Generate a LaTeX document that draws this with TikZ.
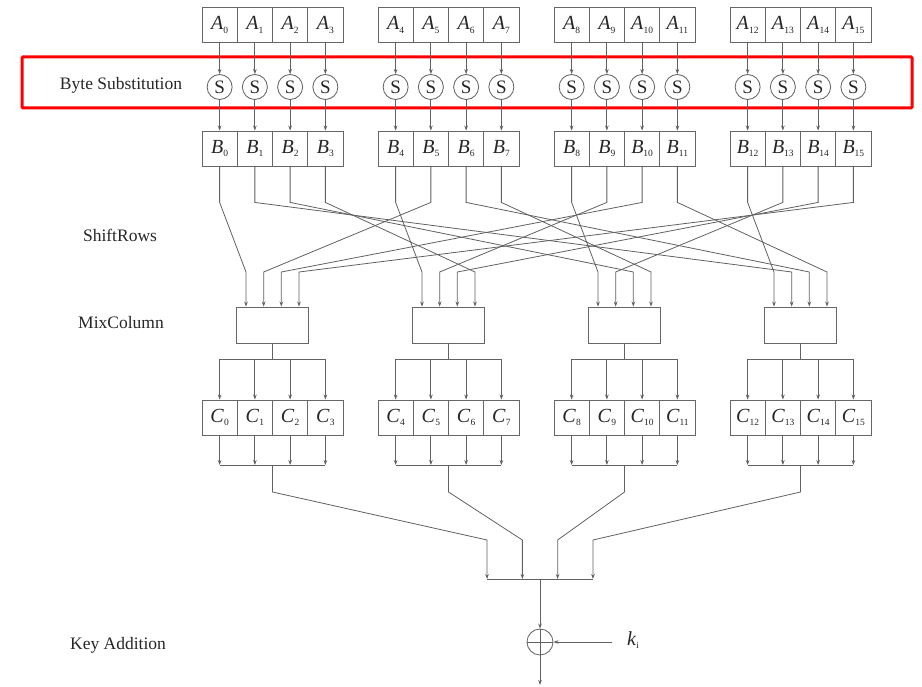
\documentclass[tikz,border=0pt]{standalone}
\usepackage{fontspec}
\setmainfont{Liberation Serif}
\usetikzlibrary{arrows.meta}
\newcommand{\cl}[2]{\textit{#1}\raisebox{-0.35ex}{\fontsize{9.5}{9.5}\selectfont #2}}
\begin{document}
\begin{tikzpicture}[x=1pt,y=-1pt,
 wire/.style={draw=black!62, line width=0.8pt},
 arr/.style={wire,-{Stealth[length=5pt,width=3.6pt]}},
 cell/.style={draw=black!60, line width=0.85pt, minimum width=35.25pt, minimum height=35pt, inner sep=0pt, font=\fontsize{20}{20}\selectfont, text=black!85},
 sbox/.style={draw=black!60, line width=0.85pt, circle, minimum size=25pt, inner sep=0pt, font=\fontsize{19}{19}\selectfont, text=black!85},
 mixbox/.style={draw=black!60, minimum width=72pt, minimum height=36pt, line width=0.85pt},
 steplabel/.style={font=\fontsize{17.5}{17.5}\selectfont, text=black!85}]
\useasboundingbox (0,0) rectangle (922,687);
% red highlight
\draw[red, line width=3pt, rounded corners=1pt] (22,57) rectangle (912,108);
% labels
\node[steplabel] (lbs) at (121,85) {Byte Substitution};
\node[steplabel] (lsr) at (120,235) {ShiftRows};
\node[steplabel] (lmc) at (121,323) {MixColumn};
\node[steplabel] (lka) at (118,645) {Key Addition};
% cells
\foreach \g in {0,...,3}{
 \foreach \j in {0,...,3}{
  \pgfmathtruncatemacro{\i}{4*\g+\j}
  \pgfmathsetmacro{\cx}{202+176*\g+35.25*(\j+0.5)}
  \node[cell] (A\i) at (\cx,25) {\cl{A}{\i}};
  \node[sbox] (S\i) at (\cx,87) {S};
  \node[cell] (B\i) at (\cx,148.5) {\cl{B}{\i}};
  \node[cell] (C\i) at (\cx,417.5) {\cl{C}{\i}};
  \draw[arr] (A\i) -- (S\i);
  \draw[arr] (S\i) -- (B\i);
 }
 \pgfmathsetmacro{\mx}{202+176*\g+70.5}
 \node[mixbox] (M\g) at (\mx,325) {};
}
% ShiftRows wiring
\foreach \g in {0,...,3}{
 \foreach \k in {0,...,3}{
  \pgfmathtruncatemacro{\src}{mod(4*(\g+\k),16)+\k}
  \pgfmathsetmacro{\ix}{202+176*\g+70.5+(\k-1.5)*17.67}
  \coordinate (in\g\k) at (\ix,272);
  \draw[arr] (B\src.south) -- ++(0,36) -- (in\g\k) -- (in\g\k |- M\g.north);
 }
}
\coordinate (bus) at (540,579);
% MixColumn outputs, C cells, collection
\foreach \g in {0,...,3}{
 \pgfmathsetmacro{\mx}{202+176*\g+70.5}
 \pgfmathtruncatemacro{\a}{4*\g}
 \pgfmathtruncatemacro{\d}{4*\g+3}
 \coordinate (h\g) at (\mx,359);
 \coordinate (lb\g) at (\mx,465);
 \draw[wire] (M\g.south) -- (h\g);
 \draw[wire] (C\a.north |- h\g) -- (C\d.north |- h\g);
 \draw[wire] (C\a.south |- lb\g) -- (C\d.south |- lb\g);
 \foreach \j in {0,...,3}{
  \pgfmathtruncatemacro{\i}{4*\g+\j}
  \draw[arr] (C\i.north |- h\g) -- (C\i.north);
  \draw[arr] (C\i.south) -- (C\i.south |- lb\g);
 }
 \pgfmathsetmacro{\fx}{540+(\g-1.5)*35.3}
 \coordinate (fin\g) at (\fx,540);
 \draw[arr] (lb\g) -- ++(0,27) -- (fin\g) -- (fin\g |- bus);
}
\draw[wire] (fin0 |- bus) -- (fin3 |- bus);
% key addition
\node[circle, draw=black!60, line width=0.85pt, minimum size=26pt, inner sep=0pt] (X) at (540,642) {};
\draw[arr] (bus) -- (X.north);
\draw[wire] (X.north) -- (X.south) (X.west) -- (X.east);
\coordinate (out) at (540,685);
\draw[arr] (X.south) -- (out);
\coordinate (kin) at (612,642);
\draw[arr] (kin) -- (X.east);
\node[anchor=west, font=\fontsize{20}{20}\selectfont, text=black!85, inner sep=0pt] (k) at (627,640) {\cl{k}{i}};
\end{tikzpicture}
\end{document}
